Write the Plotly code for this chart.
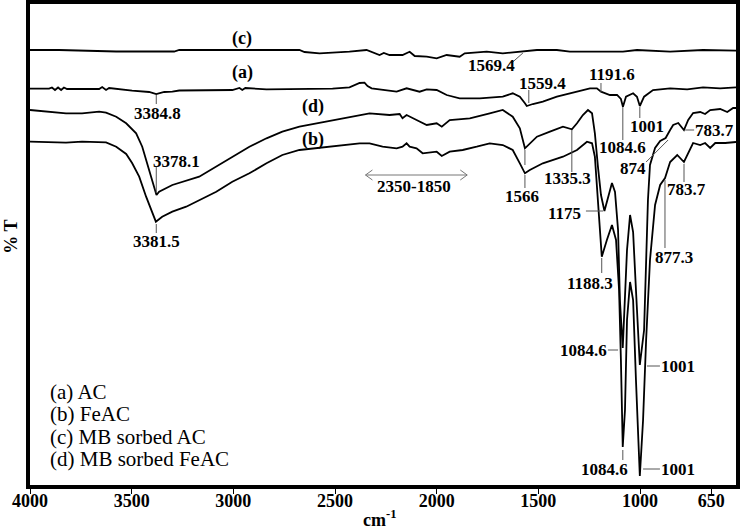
import plotly.graph_objects as go

# ---- data (wavenumber cm^-1, transmittance in arbitrary units) ----
curve_c = [(4000, 435), (3857, 435), (3576, 433.5), (3291, 433.5), (3266, 435), (2675, 435),
           (2650, 433), (2576, 431.7), (2429, 433.3), (2345, 435), (2281, 430), (2260, 432),
           (2232, 430), (2168, 430), (2133, 433.3), (2108, 429), (2049, 428.3), (2000, 426.7),
           (1951, 430), (1887, 428.3), (1862, 431.7), (1754, 433.3), (1675, 431.7), (1591, 433.3),
           (1507, 435), (1409, 435), (1345, 433.3), (1182, 433.3), (1084, 433.3), (1015, 435),
           (852, 433.3), (690, 435), (528, 434.3)]

curve_a = [(4000, 396.3), (3906, 396.3), (3892, 397.5), (3877, 395), (3862, 397.5), (3847, 395),
           (3833, 397.5), (3818, 396), (3660, 396), (3645, 398), (3626, 395), (3611, 397),
           (3498, 394.3), (3414, 393), (3379, 391), (3340, 393), (3300, 393.3), (3266, 394.5),
           (3005, 395), (2970, 397), (2956, 395), (2941, 397), (2837, 395.7), (2675, 395.7),
           (2512, 396.3), (2429, 397.7), (2379, 402), (2355, 402.3), (2340, 399), (2320, 396.7),
           (2266, 395), (2197, 393.3), (2148, 396.7), (2118, 395), (2084, 393.3), (2049, 395.7),
           (2000, 395), (1951, 390), (1887, 386.7), (1788, 386.7), (1675, 388.3), (1626, 391.7),
           (1591, 388.3), (1566, 381.7), (1557, 379), (1527, 381), (1478, 383.3), (1409, 388.3),
           (1310, 393.3), (1246, 396.7), (1212, 396.7), (1192, 393.3), (1148, 390), (1113, 390),
           (1094, 386), (1084, 378.3), (1069, 388.3), (1034, 391.7), (1015, 388.3), (1001, 379),
           (980, 388.3), (936, 395), (852, 396.7), (768, 395.7), (690, 397.7), (606, 396.7),
           (528, 397.7)]

curve_d = [(4000, 375), (3906, 373.3), (3823, 371.7), (3744, 371.7), (3660, 373.3), (3626, 372.3),
           (3576, 368.3), (3527, 361.7), (3478, 351.7), (3448, 338.3), (3424, 321.7), (3399, 305),
           (3378, 290), (3365, 293.3), (3300, 300), (3168, 308.3), (3084, 318.3), (3005, 328.3),
           (2921, 338.3), (2837, 346.7), (2759, 353.3), (2675, 358.3), (2591, 361.7), (2512, 365),
           (2429, 368.3), (2330, 371.7), (2232, 370), (2182, 371), (2168, 366.7), (2148, 370),
           (2099, 365), (2049, 360), (2000, 361.7), (1975, 358.3), (1936, 365), (1837, 366.7),
           (1739, 371.7), (1675, 375), (1626, 368.3), (1591, 356.7), (1566, 336.7), (1542, 341.7),
           (1507, 348.3), (1443, 353.3), (1379, 358.3), (1335, 355.7), (1310, 361.7), (1281, 370),
           (1256, 375), (1236, 371.7), (1222, 351.7), (1207, 318.3), (1192, 290), (1175, 274),
           (1158, 288.3), (1138, 302), (1123, 293), (1108, 255), (1099, 185), (1085, 137),
           (1079, 165), (1064, 235), (1049, 270), (1034, 253), (1020, 195), (1005, 140),
           (1001, 120), (980, 155), (970, 225), (961, 285), (951, 320), (926, 337), (901, 344),
           (874, 347), (852, 355), (837, 360), (812, 362), (784, 355), (763, 365), (739, 372),
           (704, 373), (680, 371), (655, 375), (606, 376), (571, 373), (542, 377), (528, 377)]

curve_b = [(4000, 343.3), (3823, 342.3), (3744, 343.3), (3660, 343.3), (3626, 342.7), (3576, 338.3),
           (3527, 331), (3498, 322), (3463, 308.3), (3429, 288.3), (3399, 272), (3381, 263.3),
           (3350, 268.3), (3300, 273.3), (3232, 278.3), (3168, 285), (3084, 293.3), (3005, 303.3),
           (2921, 311.7), (2837, 321.7), (2759, 330), (2675, 335), (2591, 336.7), (2512, 338.3),
           (2429, 340), (2379, 341.7), (2330, 341.7), (2266, 338.3), (2197, 336.7), (2168, 338.3),
           (2148, 341.7), (2133, 338.3), (2099, 336.7), (2069, 331.7), (2000, 333.3), (1975, 329),
           (1936, 333.3), (1872, 335), (1803, 338.3), (1739, 341.7), (1675, 340), (1626, 335),
           (1591, 321.7), (1566, 311.7), (1542, 315), (1478, 321.7), (1379, 328.3), (1310, 335),
           (1261, 343.3), (1236, 341.7), (1222, 328.3), (1207, 285), (1188, 228.3), (1163, 245),
           (1138, 260), (1118, 245), (1103, 195), (1094, 125), (1085, 38), (1074, 75), (1064, 165),
           (1049, 203), (1034, 185), (1020, 105), (1010, 45), (1001, 9), (985, 65), (970, 145),
           (951, 225), (926, 280), (901, 300), (877, 307), (852, 323), (817, 330), (784, 323),
           (763, 332), (739, 342), (704, 340), (680, 342), (655, 337), (630, 342), (581, 342),
           (528, 343)]

tick_vals = [4000, 3500, 3000, 2500, 2000, 1500, 1000, 650]
legend_lines = ["(a) AC", "(b) FeAC", "(c) MB sorbed AC", "(d) MB sorbed FeAC"]

# peak labels: (text, x, y)
peak_labels = [
    ("(c)", 2956, 447), ("(a)", 2956, 413), ("(d)", 2606, 379), ("(b)", 2606, 346),
    ("3384.8", 3374, 372), ("3378.1", 3281, 324), ("3381.5", 3379, 244),
    ("1569.4", 1729, 420), ("1559.4", 1478, 402), ("1191.6", 1138, 411),
    ("1084.6", 1084, 338), ("1001", 966, 359), ("1566", 1581, 289),
    ("1335.3", 1355, 307), ("1175", 1370, 272), ("874", 1035, 317),
    ("783.7", 636, 355), ("783.7", 769, 296), ("877.3", 833, 228),
    ("1188.3", 1246, 202), ("1084.6", 1276, 135), ("1001", 813, 119),
    ("1084.6", 1177, 16), ("1001", 813, 16), ("2350-1850", 2113, 299),
]

leaders = [
    (3379, 390, 3379, 381), (3379, 318, 3379, 292), (3379, 261, 3379, 252),
    (1626, 423, 1576, 432), (1547, 395, 1547, 382), (1192, 402, 1192, 393),
    (1084.6, 378, 1084.6, 345), (1001, 378, 1001, 367),
    (1566, 335, 1566, 320), (1566, 310, 1566, 297),
    (1335.3, 355, 1335.3, 313), (1266, 274, 1182, 274), (970, 323, 862, 345),
    (778, 355, 734, 355), (783.7, 321, 783.7, 303), (877.3, 305, 877.3, 237),
    (1188.3, 227, 1188.3, 212), (1158, 135, 1108, 135), (966, 119, 902, 119),
    (1084.6, 35, 1084.6, 25), (985, 16, 902, 16),
]

fig = go.Figure()
for pts in (curve_c, curve_a, curve_d, curve_b):
    fig.add_trace(go.Scatter(x=[p[0] for p in pts], y=[p[1] for p in pts], mode="lines",
                             line=dict(color="black", width=1.8), showlegend=False,
                             hoverinfo="skip"))

serif = "Liberation Serif"
ann = []
for txt, x, y in peak_labels:
    size = 18 if txt.startswith("(") else 17
    ann.append(dict(text="<b>" + txt + "</b>", x=x, y=y, xref="x", yref="y", showarrow=False,
                    xanchor="center", yanchor="middle",
                    font=dict(family=serif, size=size, color="black")))

for i, t in enumerate(legend_lines):
    ann.append(dict(text=t, x=0.025, y=(485 - (392 + 22.4 * i)) / 481, xref="paper", yref="paper",
                    xanchor="left", yanchor="middle", showarrow=False,
                    font=dict(family=serif, size=21, color="black")))

ann.append(dict(text="<b>% T</b>", x=-0.027, y=0.516, xref="paper", yref="paper", textangle=-90,
                xanchor="center", yanchor="middle",
                showarrow=False, font=dict(family=serif, size=18, color="black")))
ann.append(dict(text="<b>cm<sup>-1</sup></b>", x=0.495, y=-0.0977, xref="paper", yref="paper",
                xanchor="center", yanchor="bottom", showarrow=False,
                font=dict(family=serif, size=18, color="black")))

shapes = []
for x0, y0, x1, y1 in leaders:
    shapes.append(dict(type="line", xref="x", yref="y", x0=x0, y0=y0, x1=x1, y1=y1,
                       line=dict(color="#555555", width=1)))
# double-headed arrow 2350-1850
arrow_col = "#777777"
shapes.append(dict(type="line", xref="x", yref="y", x0=2350, y0=310, x1=1850, y1=310,
                   line=dict(color=arrow_col, width=1)))
for tip, d in ((2350, -34), (1850, 34)):
    for dy in (5, -5):
        shapes.append(dict(type="line", xref="x", yref="y", x0=tip, y0=310, x1=tip + d,
                           y1=310 + dy, line=dict(color=arrow_col, width=1)))

fig.update_layout(
    width=740, height=532, margin=dict(l=30, r=4, t=4, b=47, autoexpand=False),
    paper_bgcolor="white", plot_bgcolor="white",
    annotations=ann, shapes=shapes,
    xaxis=dict(range=[4000, 528], tickvals=tick_vals,
               ticktext=["<b>%d</b>" % v for v in tick_vals], automargin=False,
               ticks="outside", ticklen=5, tickwidth=1, tickcolor="black",
               ticklabelstandoff=-9,
               showline=True, linewidth=4, linecolor="black", mirror=True,
               showgrid=False, zeroline=False,
               tickfont=dict(family=serif, size=18, color="black")),
    yaxis=dict(range=[0, 481], showticklabels=False, ticks="", showline=True, linewidth=4,
               linecolor="black", mirror=True, showgrid=False, zeroline=False,
               automargin=False),
)
fig.write_html("out.html", config={"displayModeBar": False},
               post_script="document.body.style.margin='0px';")
